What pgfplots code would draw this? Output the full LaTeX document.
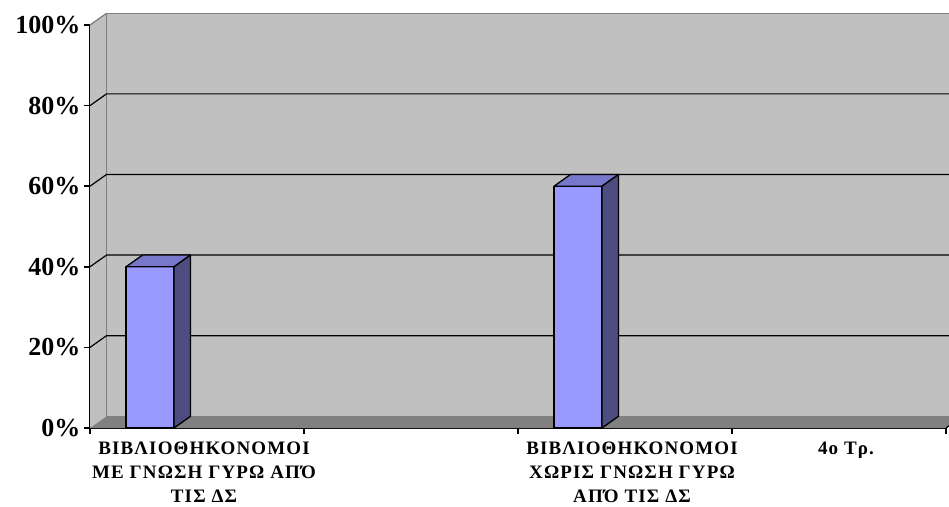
\documentclass[border=0pt]{standalone}
\usepackage{pgfplots}
\pgfplotsset{compat=1.18}
\usepackage{fontspec}
\setmainfont{Liberation Serif}
\definecolor{wall}{HTML}{C0C0C0}
\definecolor{floorc}{HTML}{808080}
\definecolor{edgec}{HTML}{808080}
\definecolor{barfront}{HTML}{9999FF}
\definecolor{bartop}{HTML}{7777CC}
\definecolor{barside}{HTML}{4D4D80}
\begin{document}
\begin{tikzpicture}
\path[use as bounding box] (0pt,0pt) rectangle (949pt,506pt);
\begin{axis}[
  at={(90pt,78pt)}, anchor=south west,
  scale only axis, width=856pt, height=403pt,
  xmin=0, xmax=4, ymin=0, ymax=100,
  clip=false,
  axis x line*=bottom, axis y line*=left,
  axis line style={black, line width=1.5pt},
  tick align=outside, major tick length=6pt,
  tick style={black, line width=1.5pt},
  xtick={0,1,2,3,4}, xticklabels={},
  extra x ticks={0.5,2.5,3.5},
  extra x tick labels={{ΒΙΒΛΙΟΘΗΚΟΝΟΜΟΙ\\ΜΕ ΓΝΩΣΗ ΓΥΡΩ ΑΠΌ\\ΤΙΣ ΔΣ},{ΒΙΒΛΙΟΘΗΚΟΝΟΜΟΙ\\ΧΩΡΙΣ ΓΝΩΣΗ ΓΥΡΩ\\ΑΠΌ ΤΙΣ ΔΣ},{4ο Τρ.}},
  extra x tick style={major tick length=0pt},
  xticklabel style={align=center, anchor=north, font=\fontsize{19}{24}\selectfont\bfseries\addfontfeatures{LetterSpace=6}, yshift=-10pt, xshift=7pt},
  ytick={0,20,40,60,80,100},
  yticklabel={\pgfmathprintnumber{\tick}\%},
  yticklabel style={font=\fontsize{26}{26}\selectfont\bfseries},
  /pgf/number format/assume math mode=true,
]
% walls and floor
\fill[wall] (axis cs:0,0) -- ([shift={(16.5pt,11.7pt)}]axis cs:0,0) -- ([shift={(16.5pt,11.7pt)}]axis cs:0,100) -- (axis cs:0,100) -- cycle;
\fill[wall] ([shift={(16.5pt,11.7pt)}]axis cs:0,0) rectangle ([shift={(16.5pt,11.7pt)}]axis cs:4,100);
\fill[floorc] (axis cs:0,0) -- (axis cs:4,0) -- ([shift={(16.5pt,11.7pt)}]axis cs:4,0) -- ([shift={(16.5pt,11.7pt)}]axis cs:0,0) -- cycle;
\draw[edgec, line width=1.3pt] ([shift={(16.5pt,11.7pt)}]axis cs:4,0) -- ([shift={(16.5pt,11.7pt)}]axis cs:0,0) -- ([shift={(16.5pt,11.7pt)}]axis cs:0,100) -- ([shift={(16.5pt,11.7pt)}]axis cs:4,100);
\draw[edgec, line width=1.3pt] (axis cs:0,100) -- ([shift={(16.5pt,11.7pt)}]axis cs:0,100);
\draw[black, line width=1.2pt] (axis cs:0,20) -- ([shift={(16.5pt,11.7pt)}]axis cs:0,20) -- ([shift={(16.5pt,11.7pt)}]axis cs:4,20);
\draw[black, line width=1.2pt] (axis cs:0,40) -- ([shift={(16.5pt,11.7pt)}]axis cs:0,40) -- ([shift={(16.5pt,11.7pt)}]axis cs:4,40);
\draw[black, line width=1.2pt] (axis cs:0,60) -- ([shift={(16.5pt,11.7pt)}]axis cs:0,60) -- ([shift={(16.5pt,11.7pt)}]axis cs:4,60);
\draw[black, line width=1.2pt] (axis cs:0,80) -- ([shift={(16.5pt,11.7pt)}]axis cs:0,80) -- ([shift={(16.5pt,11.7pt)}]axis cs:4,80);
\draw[black, line width=1.2pt] (axis cs:4,0) -- ([shift={(16.5pt,11.7pt)}]axis cs:4,0);
% bars
\addplot[ybar, bar width=48pt, bar shift=-47pt, fill=barfront, draw=black, line width=1.3pt] coordinates {(0.5,40) (2.5,60)};
\addplot[scatter, only marks, mark=*, mark size=0pt,
  visualization depends on={rawy \as \rawy},
  scatter/@pre marker code/.code={%
    \pgfmathsetmacro\nh{-\rawy*4.03}%
    \pgfmathsetmacro\lo{11.7-\rawy*4.03}%
    \filldraw[fill=bartop, draw=black, line width=1.3pt, line join=round] (-71pt,0pt) -- (-23pt,0pt) -- (-6.5pt,11.7pt) -- (-54.5pt,11.7pt) -- cycle;
    \filldraw[fill=barside, draw=black, line width=1.3pt, line join=round] (-23pt,0pt) -- (-6.5pt,11.7pt) -- (-6.5pt,\lo pt) -- (-23pt,\nh pt) -- cycle;
  },
  scatter/@post marker code/.code={}
] coordinates {(0.5,40) (2.5,60)};
\end{axis}
\end{tikzpicture}
\end{document}
